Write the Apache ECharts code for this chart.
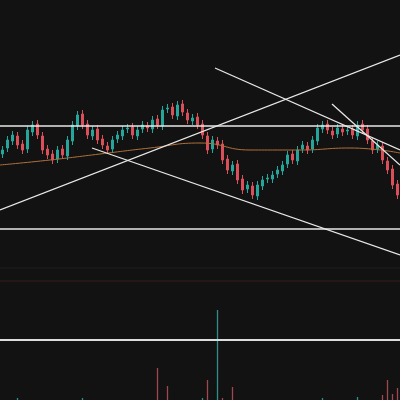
<!DOCTYPE html><html><head><meta charset="utf-8">
<script src="https://cdn.jsdelivr.net/npm/echarts@6/dist/echarts.min.js"></script>
<style>html,body{margin:0;background:#121212}#c{width:400px;height:400px}</style></head><body><div id="c"></div><script>
const closes=[250,260,265,255,250,270,275,265,250,245,240,250,245,260,275,285,275,265,270,260,255,250,260,265,270,272,265,270,275,272,280,275,290,292,285,295,288,280,282,275,265,250,260,255,240,230,235,220,210,215,205,215,220,222,225,230,235,245,240,250,255,250,260,272,275,270,265,272,268,270,265,275,270,260,250,255,240,230,215,205];
const opens=[246,252,259,264,256,251,268,276,264,251,246,241,251,244,259,274,286,276,264,271,261,254,251,261,264,271,273,264,271,274,271,281,274,291,293,284,296,287,279,283,276,264,251,259,256,241,229,236,221,211,214,204,214,221,221,226,229,236,246,239,251,254,251,259,271,276,269,266,271,269,271,264,276,271,259,251,254,239,231,216];
const volumes=[0,0,0,2,0,0,0,0,0,0,0,0,0,0,0,0,2,0,0,0,0,0,0,0,0,0,0,0,0,0,0,32,0,14,0,0,0,0,0,0,2,20,0,90,2,0,13,0,0,0,0,0,0,0,0,0,0,0,0,0,0,0,0,0,2,0,0,0,0,0,0,3,0,0,0,0,5,20,6,12];
const volUp=[1,1,1,1,1,1,1,1,1,1,1,1,1,1,1,1,1,1,1,1,1,1,1,1,1,1,1,1,1,1,1,0,1,0,1,1,1,1,1,1,1,0,1,1,0,1,0,1,1,1,1,1,1,1,1,1,1,1,1,1,1,1,1,1,1,1,1,1,1,1,1,1,1,1,1,1,0,0,0,0];
const maLine=[[0,235],[50,240],[100,246],[150,252],[200,257],[250,250],[300,250],[350,252],[400,247]];
const trendLines=[[[0,190],[400,345]],[[92,252],[400,145]],[[215,332],[400,250]],[[332,296],[400,235]],[[0,274],[400,274]],[[0,171],[400,171]]];
const cats=closes.map((_,i)=>i);
const candles=closes.map((c,i)=>{const o=opens[i];return[o,c,Math.min(o,c)-4,Math.max(o,c)+4];});
const series=[{type:'candlestick',data:candles,barWidth:3,itemStyle:{color:'#26a69a',color0:'#d9505a',borderColor:'#26a69a',borderColor0:'#d9505a'}},
{type:'line',xAxisIndex:1,data:maLine,showSymbol:false,smooth:true,lineStyle:{color:'#b0703a',width:1}},
{type:'bar',xAxisIndex:2,yAxisIndex:2,data:volumes.map((v,i)=>({value:v,itemStyle:{color:volUp[i]?'#2e8f8a':'#a04850'}})),barWidth:1.3,
 markLine:{symbol:'none',silent:true,label:{show:false},data:[{yAxis:60,lineStyle:{color:'#ddd',width:2,type:'solid'}}]}}];
trendLines.forEach(d=>series.push({type:'line',xAxisIndex:1,data:d,showSymbol:false,lineStyle:{color:'#e8e8e8',width:1.3}}));
series.push({type:'line',xAxisIndex:1,data:[[0,132],[400,132]],showSymbol:false,lineStyle:{color:'#1e1e1e',width:1}});
series.push({type:'line',xAxisIndex:1,data:[[0,119],[400,119]],showSymbol:false,lineStyle:{color:'#3a1c1c',width:1}});
const chart=echarts.init(document.getElementById('c'));
chart.setOption({backgroundColor:'#121212',animation:false,
grid:[{left:0,right:0,top:0,height:400},{left:0,right:0,top:300,height:100}],
xAxis:[{type:'category',data:cats,show:false,boundaryGap:true},{type:'value',min:0,max:400,show:false},{type:'category',data:cats,gridIndex:1,show:false}],
yAxis:[{type:'value',min:0,max:400,show:false},{type:'value',min:0,max:400,show:false},{type:'value',min:0,max:100,gridIndex:1,show:false}],
series});
</script></body></html>
